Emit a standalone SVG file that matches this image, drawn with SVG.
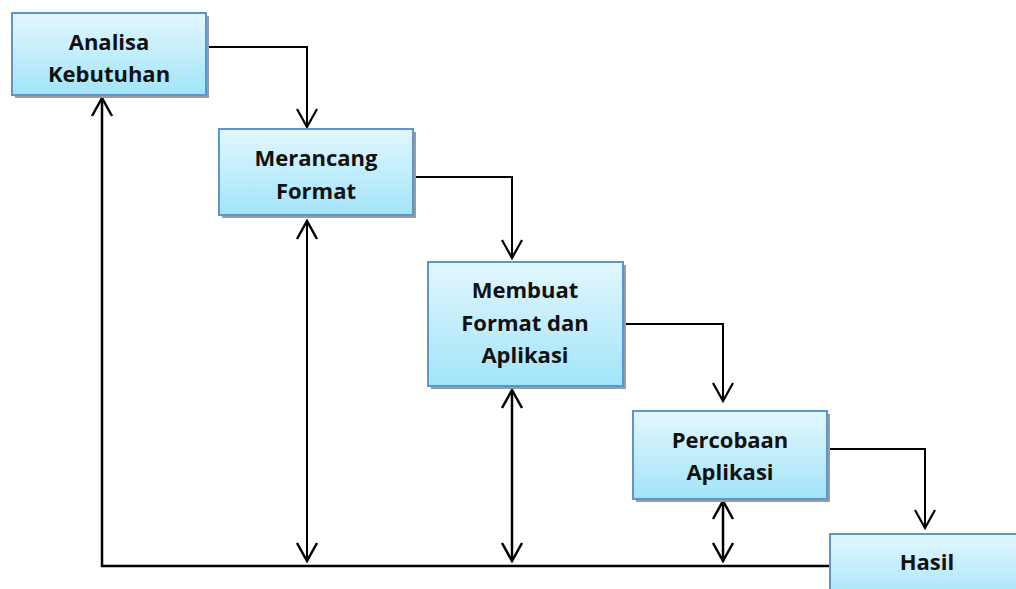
<svg xmlns="http://www.w3.org/2000/svg" width="1016" height="589" viewBox="0 0 1016 589">
<style>
.box{fill:url(#g);stroke:#5b96d2;stroke-width:2}
.sh{fill:#9c9c9c}
.t{font-family:"Open Sans","Liberation Sans",sans-serif;font-weight:bold;font-size:22px;fill:#111;text-anchor:middle}
.c{fill:none;stroke:#000;stroke-width:2}
.c2{fill:none;stroke:#000;stroke-width:2.5}
</style>
<defs>
<linearGradient id="g" x1="0" y1="0" x2="0" y2="1">
<stop offset="0" stop-color="#e2f7fd"/>
<stop offset="1" stop-color="#a2e4fa"/>
</linearGradient>
<marker id="a" viewBox="-22 -12 26 24" markerWidth="26" markerHeight="24" refX="0" refY="0" orient="auto" markerUnits="userSpaceOnUse">
<path d="M-18,-10 L0,0 L-18,10" fill="none" stroke="#000" stroke-width="2.2"/>
</marker>
<marker id="as" viewBox="-22 -12 26 24" markerWidth="26" markerHeight="24" refX="0" refY="0" orient="auto-start-reverse" markerUnits="userSpaceOnUse">
<path d="M-18,-10 L0,0 L-18,10" fill="none" stroke="#000" stroke-width="2.5"/>
</marker>
</defs>
<g id="connectors">
<path class="c" d="M206,47 H307 V127" marker-end="url(#a)"/>
<path class="c" d="M413,177 H512 V258" marker-end="url(#a)"/>
<path class="c" d="M623,324 H723 V401" marker-end="url(#a)"/>
<path class="c" d="M827,449 H925 V528" marker-end="url(#a)"/>
<path class="c2" d="M830,566 H102 V98" marker-end="url(#as)"/>
<path class="c" d="M307,221 V561" marker-start="url(#as)" marker-end="url(#as)"/>
<path class="c2" d="M512,390 V561" marker-start="url(#as)" marker-end="url(#as)"/>
<path class="c2" d="M723,501 V561" marker-start="url(#as)" marker-end="url(#as)"/>
</g>
<g id="n1">
<rect class="sh" x="15" y="16" width="194" height="82"/>
<rect class="box" x="12" y="13" width="194" height="82"/>
<text class="t" x="109" y="50">Analisa</text>
<text class="t" x="109" y="82">Kebutuhan</text>
</g>
<g id="n2">
<rect class="sh" x="222" y="132" width="194" height="86"/>
<rect class="box" x="219" y="129" width="194" height="86"/>
<text class="t" x="316" y="166">Merancang</text>
<text class="t" x="316" y="199">Format</text>
</g>
<g id="n3">
<rect class="sh" x="431" y="265" width="195" height="124"/>
<rect class="box" x="428" y="262" width="195" height="124"/>
<text class="t" x="525" y="298">Membuat</text>
<text class="t" x="525" y="331">Format dan</text>
<text class="t" x="525" y="363">Aplikasi</text>
</g>
<g id="n4">
<rect class="sh" x="636" y="414" width="194" height="88"/>
<rect class="box" x="633" y="411" width="194" height="88"/>
<text class="t" x="730" y="448">Percobaan</text>
<text class="t" x="730" y="480">Aplikasi</text>
</g>
<g id="n5">
<rect class="box" x="830" y="534" width="196" height="70"/>
<text class="t" x="927" y="570">Hasil</text>
</g>
</svg>
